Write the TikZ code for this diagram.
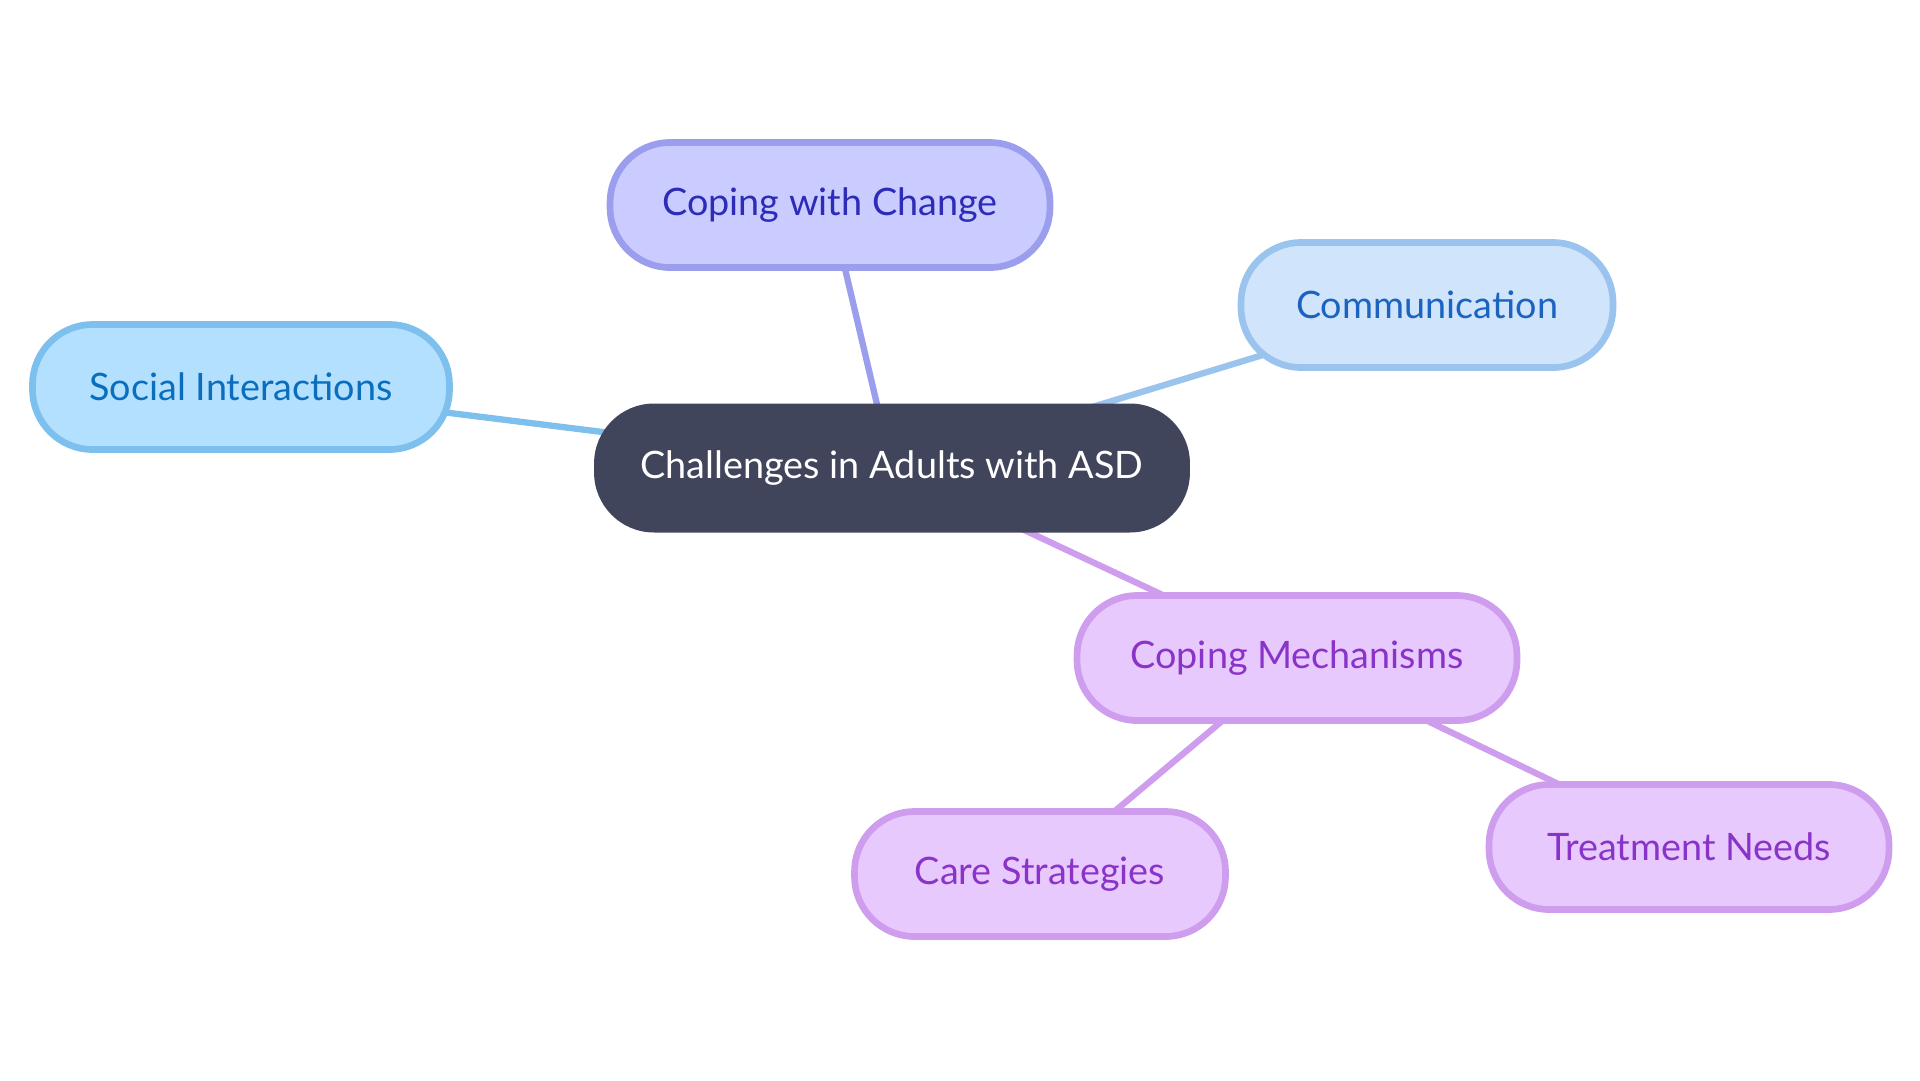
\documentclass[tikz,border=0pt]{standalone}
\usepackage{fontspec}
\setmainfont{Lato}
\usepackage{tikz}
\usetikzlibrary{backgrounds}
\definecolor{RootFill}{RGB}{65,69,92}
\definecolor{SkyFill}{RGB}{179,224,255}
\definecolor{SkyLine}{RGB}{125,192,238}
\definecolor{SkyText}{RGB}{10,110,189}
\definecolor{IrisFill}{RGB}{202,203,255}
\definecolor{IrisLine}{RGB}{155,158,236}
\definecolor{IrisText}{RGB}{44,44,184}
\definecolor{IceFill}{RGB}{208,229,251}
\definecolor{IceLine}{RGB}{154,195,238}
\definecolor{IceText}{RGB}{27,99,192}
\definecolor{LilacFill}{RGB}{232,201,253}
\definecolor{LilacLine}{RGB}{206,157,238}
\definecolor{LilacText}{RGB}{138,51,201}
\tikzset{%
  topic/.style={rounded corners=1.2cm, minimum height=2.5cm, line width=3.8pt,
    inner sep=0pt, font=\fontsize{21.5}{26}\selectfont},
  root/.style={topic, minimum height=2.58cm, fill=RootFill, text=white},
  sky/.style={topic, fill=SkyFill, draw=SkyLine, text=SkyText},
  iris/.style={topic, fill=IrisFill, draw=IrisLine, text=IrisText},
  ice/.style={topic, fill=IceFill, draw=IceLine, text=IceText},
  lilac/.style={topic, fill=LilacFill, draw=LilacLine, text=LilacText},
  branch/.style={line width=3.6pt}
}

\begin{document}
\begin{tikzpicture}[x=0.02cm,y=-0.02cm]
    \useasboundingbox (0,0) rectangle (1920,1080);
    \node[root, minimum width=11.92cm] (asd) at (892,468) {Challenges in Adults with ASD};
    \foreach \n/\x/\y/\w/\s/\t in {%
      change/830/205/8.8/iris/Coping with Change,
      comm/1427/305/7.44/ice/Communication,
      social/241/387/8.34/sky/Social Interactions,
      mech/1297/658/8.8/lilac/Coping Mechanisms,
      care/1040/874/7.42/lilac/Care Strategies,
      treat/1689/847/8.0/lilac/Treatment Needs} {
      \node[\s, minimum width=\w cm] (\n) at (\x,\y) {\t};
    }
    \begin{scope}[on background layer]
      \draw[branch, IrisLine] (asd.center) -- (change.center);
      \draw[branch, IceLine] (asd.center) -- (comm.center);
      \draw[branch, SkyLine] (asd.center) -- (social.center);
      \draw[branch, LilacLine] (asd.center) -- (mech.center);
      \draw[branch, LilacLine] (mech.center) -- (care.center);
      \draw[branch, LilacLine] (mech.center) -- (treat.center);
    \end{scope}
  \end{tikzpicture}
\end{document}
